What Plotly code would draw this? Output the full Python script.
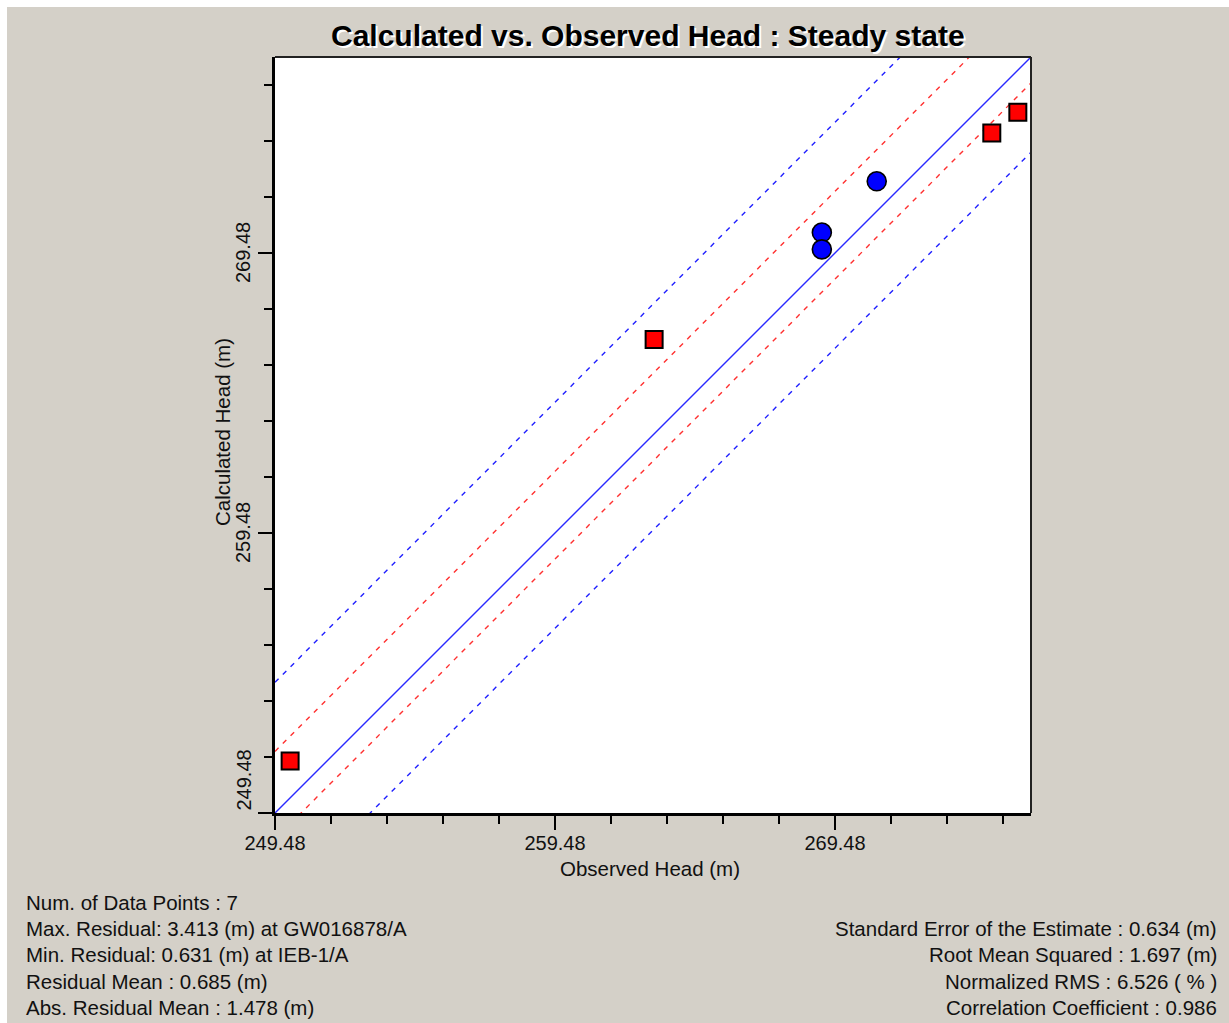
import plotly.graph_objects as go

# ---- data ----
red_obs = [250.02, 263.02, 275.08, 276.01]
red_calc = [251.34, 266.39, 273.77, 274.51]
blue_obs = [269.01, 269.01, 270.97]
blue_calc = [270.21, 269.61, 272.04]

axis_min = 249.48
axis_max = 276.48
tick_vals = [249.48, 259.48, 269.48]
tick_text = ["249.48", "259.48", "269.48"]

red_band = [2.2, -0.93]     # calc - obs offsets of red dashed lines
blue_band = [4.67, -3.4]    # calc - obs offsets of blue dashed lines

left_stats = [
    "Num. of Data Points : 7",
    "Max. Residual: 3.413 (m) at GW016878/A",
    "Min. Residual: 0.631 (m) at IEB-1/A",
    "Residual Mean : 0.685 (m)",
    "Abs. Residual Mean : 1.478 (m)",
]
right_stats = [
    "Standard Error of the Estimate : 0.634 (m)",
    "Root Mean Squared : 1.697 (m)",
    "Normalized RMS : 6.526 ( % )",
    "Correlation Coefficient : 0.986",
]

title_text = "Calculated vs. Observed Head : Steady state"
x_title = "Observed Head (m)"
y_title = "Calculated Head (m)"

# ---- layout geometry ----
W, H = 1229, 1023
ML, MR, MT, MB = 275, 198, 57, 210
PW = W - ML - MR
PH = H - MT - MB
FONT = "Liberation Sans, Arial, sans-serif"
BG = "#d4d0c8"


def px_x(px):
    return (px - ML) / PW


def px_y(py):
    return (H - MB - py) / PH


fig = go.Figure()

line_x = [axis_min - 10, axis_max + 10]
for d in blue_band:
    fig.add_trace(go.Scatter(x=line_x, y=[v + d for v in line_x], mode="lines",
                             line=dict(color="#2020ff", width=1.4, dash="5px,6px"),
                             hoverinfo="skip", showlegend=False))
for d in red_band:
    fig.add_trace(go.Scatter(x=line_x, y=[v + d for v in line_x], mode="lines",
                             line=dict(color="#ff3030", width=1.4, dash="5px,6px"),
                             hoverinfo="skip", showlegend=False))
fig.add_trace(go.Scatter(x=line_x, y=line_x, mode="lines",
                         line=dict(color="#2a2aff", width=1.4),
                         hoverinfo="skip", showlegend=False))

fig.add_trace(go.Scatter(x=blue_obs, y=blue_calc, mode="markers",
                         marker=dict(symbol="circle", size=19, color="#0000ff",
                                     line=dict(color="#000000", width=1.6)),
                         showlegend=False, cliponaxis=False))
fig.add_trace(go.Scatter(x=red_obs, y=red_calc, mode="markers",
                         marker=dict(symbol="square", size=17, color="#ff0000",
                                     line=dict(color="#000000", width=2)),
                         showlegend=False, cliponaxis=False))

axis_common = dict(
    range=[axis_min, axis_max],
    tickvals=tick_vals,
    ticks="outside", ticklen=14, tickwidth=2, tickcolor="#000000",
    minor=dict(dtick=2, tick0=axis_min, ticks="outside", ticklen=8,
               tickwidth=2, tickcolor="#000000"),
    showgrid=False, zeroline=False,
    showline=True, linewidth=3, linecolor="#000000",
    tickfont=dict(family=FONT, size=20, color="#111111"),
    fixedrange=True,
)

fig.update_xaxes(**axis_common, ticktext=tick_text, showticklabels=True,
                 ticklabelstandoff=-4)
fig.update_yaxes(**axis_common, showticklabels=False)

annotations = []
# title with white shadow
annotations.append(dict(x=px_x(648), y=px_y(35), xref="paper", yref="paper",
                        text="<b>" + title_text + "</b>", showarrow=False,
                        xanchor="center", yanchor="middle",
                        font=dict(family=FONT, size=30, color="#000000",
                                  shadow="2px 2px 0px #ffffff")))
# axis titles
annotations.append(dict(x=px_x(650), y=px_y(868), xref="paper", yref="paper",
                        text=x_title, showarrow=False, xanchor="center", yanchor="middle",
                        font=dict(family=FONT, size=20.5, color="#111111")))
annotations.append(dict(x=px_x(222), y=px_y(432), xref="paper", yref="paper",
                        text=y_title, showarrow=False, textangle=-90,
                        xanchor="center", yanchor="middle",
                        font=dict(family=FONT, size=20.5, color="#111111")))
# y tick labels (bottom one kept inside the axis span)
for v, t in zip(tick_vals, tick_text):
    anchor = "bottom" if v == axis_min else "middle"
    annotations.append(dict(x=px_x(243), xref="paper", y=v, yref="y",
                            text=t, showarrow=False, textangle=-90,
                            xanchor="center", yanchor=anchor,
                            font=dict(family=FONT, size=20, color="#111111")))
# stats
left_y = [902, 928, 954, 981, 1007]
for t, py in zip(left_stats, left_y):
    annotations.append(dict(x=px_x(24), y=px_y(py), xref="paper", yref="paper",
                            text=t, showarrow=False, xanchor="left", yanchor="middle",
                            font=dict(family=FONT, size=20.5, color="#111111")))
right_y = [928, 954, 981, 1007]
for t, py in zip(right_stats, right_y):
    annotations.append(dict(x=px_x(1219), y=px_y(py), xref="paper", yref="paper",
                            text=t, showarrow=False, xanchor="right", yanchor="middle",
                            font=dict(family=FONT, size=20.5, color="#111111")))

shapes = [
    # white strips at top and left edges of the window
    dict(type="rect", xref="paper", yref="paper", x0=px_x(0), x1=px_x(W),
         y0=px_y(7), y1=px_y(0), fillcolor="#ffffff", line=dict(width=0), layer="below"),
    dict(type="rect", xref="paper", yref="paper", x0=px_x(0), x1=px_x(7),
         y0=px_y(H), y1=px_y(0), fillcolor="#ffffff", line=dict(width=0), layer="below"),
    # top and right border of plot area
    dict(type="line", xref="paper", yref="paper", x0=0, x1=1, y0=1, y1=1,
         line=dict(color="#222222", width=2)),
    dict(type="line", xref="paper", yref="paper", x0=1, x1=1, y0=0, y1=1,
         line=dict(color="#222222", width=2)),
]

fig.update_layout(
    width=W, height=H,
    margin=dict(l=ML, r=MR, t=MT, b=MB, pad=0),
    paper_bgcolor=BG, plot_bgcolor="#ffffff",
    annotations=annotations, shapes=shapes,
    showlegend=False,
    font=dict(family=FONT, size=20, color="#111111"),
)

fig.write_html("out.html", config={"displayModeBar": False})
